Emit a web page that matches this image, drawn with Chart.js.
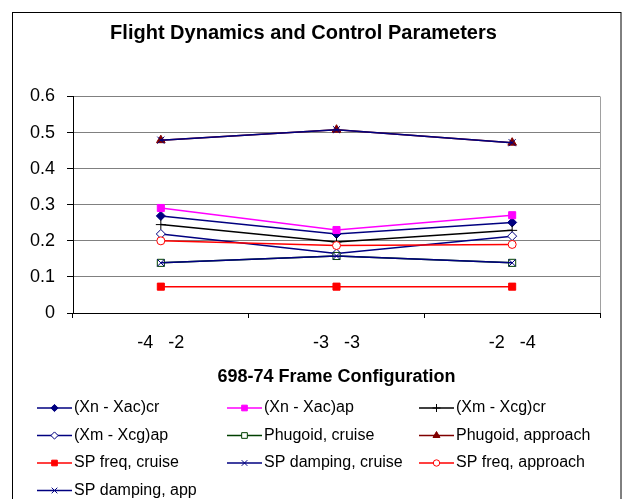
<!DOCTYPE html>
<html><head><meta charset="utf-8">
<script src="https://cdn.jsdelivr.net/npm/chart.js@4/dist/chart.umd.min.js"></script>
<style>html,body{margin:0;padding:0;background:#fff;}#wrap{width:623px;height:499px;position:relative;}canvas{display:block;}</style>
</head><body><div id="wrap"><canvas id="c" width="623" height="499"></canvas></div>
<script>
// ---- data ----
const categories = ['-4   -2', '-3   -3', '-2   -4'];
const seriesNames = ['(Xn - Xac)cr', '(Xn - Xac)ap', '(Xm - Xcg)cr', '(Xm - Xcg)ap', 'Phugoid, cruise', 'Phugoid, approach', 'SP freq, cruise', 'SP damping, cruise', 'SP freq, approach', 'SP damping, app'];
const xnXacCr = [0.269, 0.219, 0.251];
const xnXacAp = [0.291, 0.230, 0.271];
const xmXcgCr = [0.245, 0.197, 0.229];
const xmXcgAp = [0.219, 0.165, 0.213];
const phugoidCruise = [0.139, 0.158, 0.139];
const phugoidApproach = [0.479, 0.508, 0.472];
const spFreqCruise = [0.073, 0.073, 0.073];
const spDampingCruise = [0.139, 0.158, 0.139];
const spFreqApproach = [0.200, 0.187, 0.190];
const spDampingApp = [0.479, 0.508, 0.472];
const yTicks = [0, 0.1, 0.2, 0.3, 0.4, 0.5, 0.6];
const chartTitle = 'Flight Dynamics and Control Parameters';
const xTitle = '698-74 Frame Configuration';

// ---- styles ----
const seriesValues = [xnXacCr, xnXacAp, xmXcgCr, xmXcgAp, phugoidCruise, phugoidApproach, spFreqCruise, spDampingCruise, spFreqApproach, spDampingApp];
const styles = [
  {c:'#000080', p:'rectRot', f:'#000080', r:4.5},
  {c:'#FF00FF', p:'rect', f:'#FF00FF', r:5},
  {c:'#000000', p:'cross', f:'#000000', r:5},
  {c:'#000080', p:'rectRot', f:'#FFFFFF', r:4.5},
  {c:'#004000', p:'rect', f:'#FFFFFF', r:5},
  {c:'#800000', p:'triangle', f:'#800000', r:5},
  {c:'#FF0000', p:'rect', f:'#FF0000', r:5},
  {c:'#000080', p:'crossRot', f:'#000080', r:5},
  {c:'#FF0000', p:'circle', f:'#FFFFFF', r:4},
  {c:'#000080', p:'crossRot', f:'#000080', r:5}
];

Chart.defaults.font.family = 'Arial, "Liberation Sans", sans-serif';
Chart.defaults.color = '#000';

const datasets = seriesNames.map((n, i) => ({
  label: n,
  data: seriesValues[i],
  borderColor: styles[i].c,
  backgroundColor: styles[i].f,
  borderWidth: 1.5,
  pointStyle: styles[i].p,
  pointRadius: styles[i].r,
  pointHoverRadius: styles[i].r,
  pointBorderColor: styles[i].c,
  pointBackgroundColor: styles[i].f,
  pointBorderWidth: 1,
  tension: 0,
  fill: false,
  order: seriesNames.length - i
}));

const framePlugin = {
  id: 'frame',
  beforeDraw(chart) {
    const ctx = chart.ctx;
    ctx.save();
    ctx.fillStyle = '#fff';
    ctx.fillRect(0, 0, chart.width, chart.height);
    ctx.strokeStyle = '#000';
    ctx.lineWidth = 1;
    ctx.strokeRect(12.5, 12.5, 608.5, 500);
    ctx.restore();
  },
  beforeDatasetsDraw(chart) {
    const a = chart.chartArea, ctx = chart.ctx;
    ctx.save();
    ctx.strokeStyle = '#a0a0a0';
    ctx.lineWidth = 1;
    ctx.beginPath();
    ctx.moveTo(Math.round(a.right) + 0.5, a.top);
    ctx.lineTo(Math.round(a.right) + 0.5, a.bottom);
    ctx.stroke();
    ctx.restore();
  },
  afterDraw(chart) {
    const ctx = chart.ctx;
    const cols = [37, 227, 419], rows = [408, 435.5, 463, 490.5], len = 35;
    ctx.save();
    chart.data.datasets.forEach((ds, i) => {
      const x = cols[i % 3], y = rows[Math.floor(i / 3)];
      ctx.strokeStyle = ds.borderColor;
      ctx.lineWidth = 1.5;
      ctx.beginPath();
      ctx.moveTo(x, y); ctx.lineTo(x + len, y); ctx.stroke();
      ctx.fillStyle = ds.pointBackgroundColor;
      ctx.strokeStyle = ds.pointBorderColor;
      ctx.lineWidth = 1;
      Chart.helpers.drawPoint(ctx, {pointStyle: ds.pointStyle, radius: ds.pointRadius * 0.8, rotation: 0, borderWidth: 1}, x + len / 2, y);
      ctx.fillStyle = '#000';
      ctx.font = '16px Arial, "Liberation Sans", sans-serif';
      ctx.textBaseline = 'middle';
      ctx.textAlign = 'left';
      ctx.fillText(ds.label, x + len + 2, y);
    });
    ctx.restore();
  }
};

new Chart(document.getElementById('c'), {
  type: 'line',
  data: { labels: categories, datasets },
  options: {
    responsive: false,
    animation: false,
    devicePixelRatio: 1,
    layout: { padding: { left: 7, right: 23, top: 0, bottom: 0 } },
    plugins: {
      legend: { display: false },
      tooltip: { enabled: false },
      title: {
        display: true, text: chartTitle, color: '#000',
        font: { size: 20, weight: 'bold' },
        padding: { top: 21, bottom: 51.5 }
      }
    },
    scales: {
      x: {
        offset: true,
        grid: { offset: true, drawOnChartArea: false, drawTicks: true, tickLength: 5, tickColor: '#000', color: '#000' },
        border: { color: '#000', width: 1 },
        ticks: { font: { size: 18 }, color: '#000', padding: 14, maxRotation: 0, autoSkip: false },
        title: { display: true, text: xTitle, color: '#000', font: { size: 18, weight: 'bold' }, padding: { top: 0, bottom: 111 } },
        afterFit(s) { s.height = 186; }
      },
      y: {
        min: 0, max: 0.6,
        afterBuildTicks(s) { s.ticks = yTicks.map(v => ({ value: v })); },
        grid: { color: '#808080', tickColor: '#000', tickLength: 6, lineWidth: 1 },
        border: { color: '#000', width: 1 },
        ticks: { font: { size: 18 }, color: '#000', padding: 12 },
        afterFit(s) { s.width = 66; }
      }
    }
  },
  plugins: [framePlugin]
});
</script></body></html>
